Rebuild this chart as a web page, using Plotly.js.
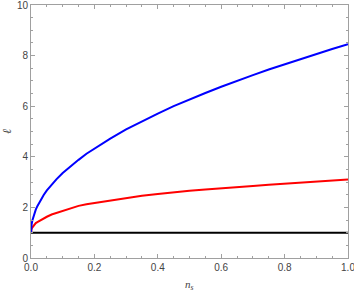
<!DOCTYPE html>
<html>
<head>
<meta charset="utf-8">
<script src="https://cdn.plot.ly/plotly-3.0.1.min.js"></script>
<style>html,body{margin:0;padding:0;background:#fff;}#chart{width:354px;height:291px;}</style>
</head>
<body>
<div id="chart"></div>
<script>
const xValues = [0, 0.0005, 0.001, 0.002, 0.004, 0.007, 0.01, 0.015, 0.02, 0.03, 0.04, 0.05, 0.065, 0.08, 0.1, 0.125, 0.15, 0.175, 0.2, 0.25, 0.3, 0.35, 0.4, 0.45, 0.5, 0.55, 0.6, 0.65, 0.7, 0.75, 0.8, 0.85, 0.9, 0.95, 1.0];
const blueValues = [1.00, 1.17, 1.24, 1.33, 1.47, 1.62, 1.74, 1.91, 2.05, 2.29, 2.49, 2.67, 2.90, 3.11, 3.36, 3.63, 3.88, 4.12, 4.33, 4.72, 5.08, 5.41, 5.71, 6.00, 6.27, 6.52, 6.77, 7.01, 7.23, 7.45, 7.66, 7.87, 8.07, 8.26, 8.45];
const redValues = [1.00, 1.08, 1.11, 1.15, 1.20, 1.26, 1.30, 1.38, 1.42, 1.50, 1.58, 1.63, 1.72, 1.78, 1.88, 1.97, 2.06, 2.12, 2.17, 2.29, 2.38, 2.46, 2.53, 2.60, 2.66, 2.71, 2.75, 2.80, 2.85, 2.90, 2.94, 2.98, 3.02, 3.06, 3.10];
const blackX = [0, 1];
const blackValues = [1, 1];
const xTickVals = [0, 0.2, 0.4, 0.6, 0.8, 1.0];
const xTickText = ["0.0", "0.2", "0.4", "0.6", "0.8", "1.0"];
const yTickVals = [0, 2, 4, 6, 8, 10];
const yTickText = ["0", "2", "4", "6", "8", "10"];
const xTitle = '<i>n</i><sub><i>s</i></sub>';
const yTitle = '<i>ℓ</i>';

const traces = [
  {x: blackX, y: blackValues, mode: 'lines', line: {color: '#000', width: 2}},
  {x: xValues, y: redValues, mode: 'lines', line: {color: '#ff0000', width: 2}},
  {x: xValues, y: blueValues, mode: 'lines', line: {color: '#0000ff', width: 2}}
];

const axisCommon = {
  showline: true, linecolor: '#a0a0a0', linewidth: 1, mirror: 'ticks',
  ticks: 'inside', ticklen: 4, tickcolor: '#a0a0a0', tickwidth: 1,
  showgrid: false, zeroline: false, ticklabeloverflow: 'allow',
  tickfont: {family: 'Liberation Sans, Arial, sans-serif', size: 10, color: '#444'}
};

const titleFont = {family: 'Liberation Serif, Times New Roman, serif', size: 11, color: '#444'};

const layout = {
  width: 354, height: 291,
  margin: {l: 31, r: 6, t: 5, b: 33},
  paper_bgcolor: '#fff', plot_bgcolor: '#fff',
  showlegend: false,
  xaxis: Object.assign({}, axisCommon, {
    range: [0, 1], tickvals: xTickVals, ticktext: xTickText,
    minor: {dtick: 0.05, tick0: 0, ticks: 'inside', ticklen: 2, tickcolor: '#a0a0a0'}
  }),
  yaxis: Object.assign({}, axisCommon, {
    range: [0, 10], tickvals: yTickVals, ticktext: yTickText,
    minor: {dtick: 0.5, tick0: 0, ticks: 'inside', ticklen: 2, tickcolor: '#a0a0a0'}
  }),
  annotations: [
    {text: xTitle, xref: 'paper', yref: 'paper', x: 0.5, y: -0.107, xanchor: 'center', yanchor: 'middle', showarrow: false, borderpad: 0, font: titleFont},
    {text: yTitle, xref: 'paper', yref: 'paper', x: -0.077, y: 0.5, xanchor: 'center', yanchor: 'middle', textangle: -90, showarrow: false, borderpad: 0, font: Object.assign({}, titleFont, {size: 12})}
  ]
};

Plotly.newPlot('chart', traces, layout, {staticPlot: true, displayModeBar: false});
</script>
</body>
</html>
